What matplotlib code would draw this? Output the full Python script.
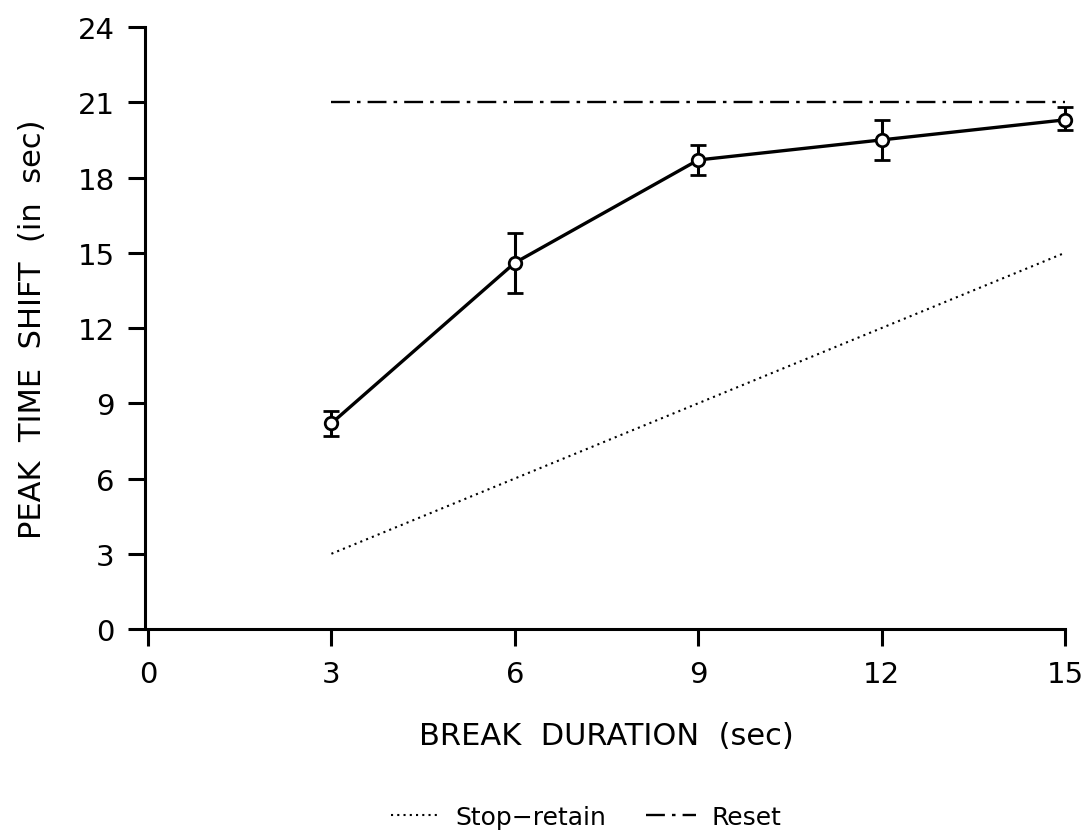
import matplotlib.pyplot as plt
import numpy as np

plt.rcParams['font.family'] = ['DejaVu Sans']

break_dur = [3, 6, 9, 12, 15]
peak_shift = [8.2, 14.6, 18.7, 19.5, 20.3]
err_lo = [0.5, 1.2, 0.6, 0.8, 0.4]
err_hi = [0.5, 1.2, 0.6, 0.8, 0.5]
stop_retain = [3, 15]
reset = [21, 21]
ref_x = [3, 15]

fig = plt.figure(figsize=(10.85, 8.37), dpi=100)
ax = fig.add_axes([0.1364, 0.2473, 0.8452, 0.7192])

ax.plot(ref_x, stop_retain, color='black', linestyle=(0, (1, 2)), lw=1.5, label='Stop\u2212retain')
ax.plot(ref_x, reset, color='black', linestyle=(0, (8, 3, 1.5, 3)), lw=1.7, label='Reset')
ax.errorbar(break_dur, peak_shift, yerr=[err_lo, err_hi], color='black', lw=2.4,
            marker='o', ms=9, mfc='white', mec='black', mew=2,
            capsize=6, capthick=2.2, elinewidth=2.2, zorder=5, clip_on=False)

ax.set_xlim(0, 15)
ax.set_ylim(0, 24)
ax.set_xticks(np.arange(0, 16, 3))
ax.set_yticks(np.arange(0, 25, 3))
ax.spines['top'].set_visible(False)
ax.spines['right'].set_visible(False)
ax.spines['left'].set_linewidth(2.2)
ax.spines['bottom'].set_linewidth(2.2)
ax.spines['left'].set_position(('outward', 2))
ax.tick_params(direction='out', length=12, width=2.2, labelsize=21, pad=10)
ax.set_xlabel('BREAK  DURATION  (sec)', fontsize=22, labelpad=24)
ax.set_ylabel('PEAK  TIME  SHIFT  (in  sec)', fontsize=22, labelpad=22)

fig.legend(loc='lower center', bbox_to_anchor=(0.54, -0.018), ncol=2, frameon=False,
           fontsize=18, handlelength=2.0, columnspacing=1.6, handletextpad=0.6)

fig.savefig('out.png', dpi=100)
